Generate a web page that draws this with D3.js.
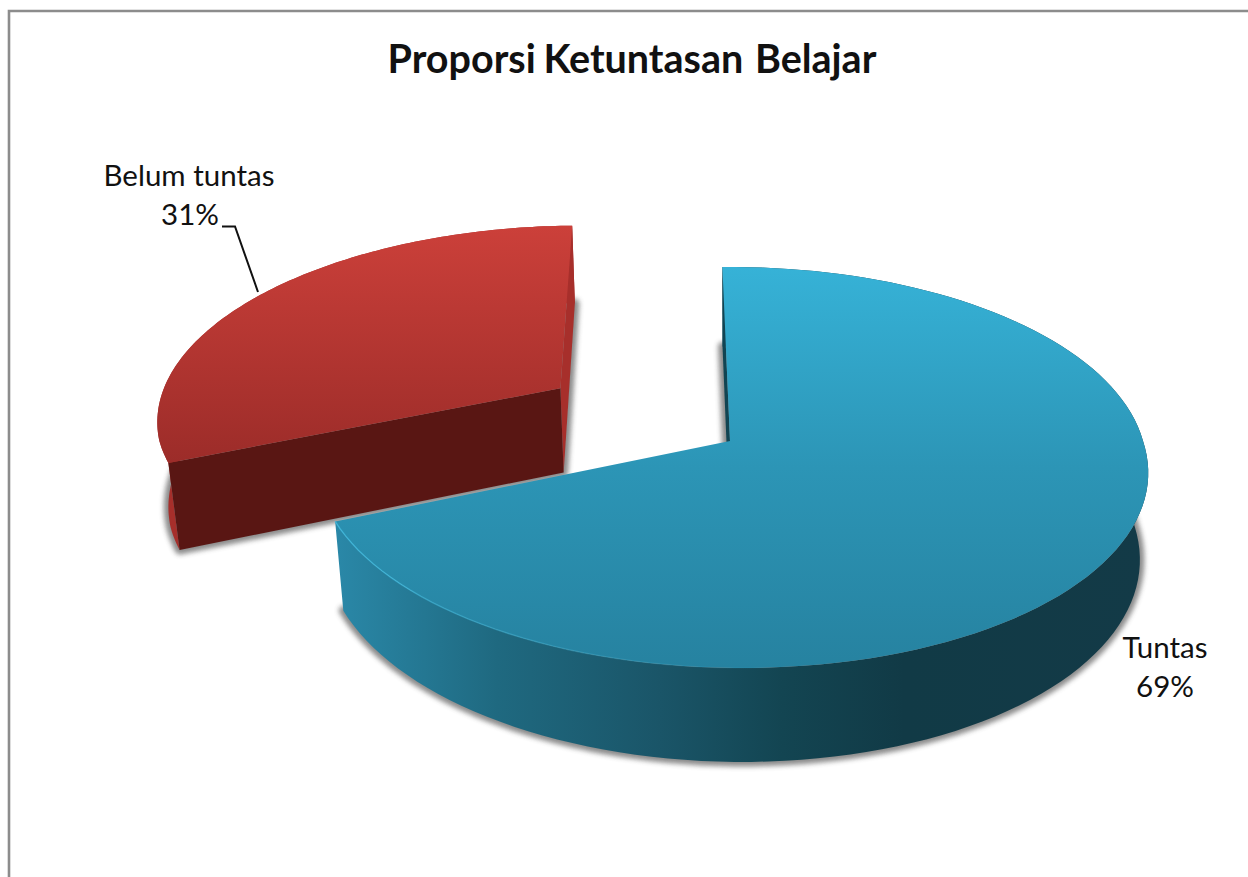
<!DOCTYPE html>
<html>
<head>
<meta charset="utf-8">
<script src="https://cdn.jsdelivr.net/npm/d3@7"></script>
<style>
    html, body { margin: 0; padding: 0; background: #fff; overflow: hidden; }
    svg { display: block; }
    text { font-family: Lato, "Open Sans", sans-serif; fill: #111; }
</style>
</head>
<body>
<svg id="chart" width="1248" height="877"></svg>
<script>
const categories = ["Tuntas", "Belum tuntas"];
const percentValues = [69, 31];

const svg = d3.select("#chart");

// pie geometry
const center = { "x": 730, "y": 441 };
const radius = { "left": 411, "right": 413, "y": 197 };
const perspective = 0.132;
const depth = 88;
const depthShrink = 0.02;
const explode = 0.51;
const shear = 11;
const startAngle = -1.2 * Math.PI / 180;

const xScale = d3.scaleLinear().domain([-1, 0, 1]).range([center.x - radius.left, center.x, center.x + radius.right]);
const yScale = d3.scaleLinear().domain([-1, 1]).range([center.y - radius.y, center.y + radius.y]);

const pie = d3.pie()
    .sort(null)
    .startAngle(startAngle)
    .endAngle(startAngle + 2 * Math.PI);

const arcs = pie(percentValues);

// ground plane (u, v) + height flag -> screen point
function project(u, v, bottom)
{
    let f = 1 / (1 - perspective * v + (bottom ? depthShrink : 0));
    let shift = bottom ? depth / radius.y : 0;
    return [
        center.x + (xScale(u) - center.x + shear * Math.max(v, 0)) * f,
        center.y + (yScale(v + shift) - center.y) * f
    ];
}

function slicePoint(d, angle, r, bottom)
{
    let mid = (d.startAngle + d.endAngle) / 2;
    // only the small slice is pulled out
    let t = d.index == 1 ? explode : 0;
    let u = t * Math.sin(mid) + r * Math.sin(angle);
    let v = -t * Math.cos(mid) - r * Math.cos(angle);
    return project(u, v, bottom);
}

function rim(d, bottom)
{
    let n = 120;
    return d3.range(n + 1).map(function(i){
        let a = d.startAngle + (d.endAngle - d.startAngle) * i / n;
        return slicePoint(d, a, 1, bottom);
    });
}

const line = d3.line();

function facePath(d, bottom)
{
    return line([slicePoint(d, 0, 0, bottom)].concat(rim(d, bottom))) + "Z";
}

function wallPath(d)
{
    return line(rim(d, false).concat(rim(d, true).reverse())) + "Z";
}

function cutPath(d, angle)
{
    return line([
        slicePoint(d, 0, 0, false),
        slicePoint(d, angle, 1, false),
        slicePoint(d, angle, 1, true),
        slicePoint(d, 0, 0, true)
    ]) + "Z";
}

// gradients and shadow
const defs = svg.append("defs");

function addGradient(id, x1, y1, x2, y2, stops)
{
    let g = defs.append("linearGradient")
        .attr("id", id)
        .attr("gradientUnits", "userSpaceOnUse")
        .attr("x1", x1).attr("y1", y1)
        .attr("x2", x2).attr("y2", y2);
    g.selectAll("stop").data(stops).enter().append("stop")
        .attr("offset", d => d[0])
        .attr("stop-color", d => d[1])
        .attr("stop-opacity", d => d.length > 2 ? d[2] : 1);
}

addGradient("blueTop", 0, 267, 0, 668, [[0, "#36b2d7"], [0.5, "#2c95b6"], [1, "#2682a0"]]);
addGradient("redTop", 0, 224, 0, 462, [[0, "#cc403a"], [1, "#9c2c29"]]);
addGradient("blueWall", 335, 0, 1148, 0, [
    [0, "#2a88a8"], [0.2, "#1f6980"], [0.4, "#1a5568"], [0.55, "#134552"], [0.7, "#113a46"], [1, "#133a47"]
]);
addGradient("redWall", 160, 0, 575, 0, [[0, "#a62f2b"], [1, "#a72f2b"]]);
addGradient("blueRim", 335, 0, 800, 0, [[0, "#3bb7dc", 0.8], [0.5, "#3bb7dc", 0.35], [1, "#3bb7dc", 0]]);

defs.append("filter")
    .attr("id", "soft")
    .attr("x", "-10%").attr("y", "-10%")
    .attr("width", "120%").attr("height", "120%")
    .append("feGaussianBlur")
    .attr("stdDeviation", 2.6);

// chart frame
svg.append("path")
    .attr("d", line([[9, 877], [9, 11], [1248, 11]]))
    .attr("fill", "none")
    .attr("stroke", "#8c8c8c")
    .attr("stroke-width", 2.6);

// red slice first, the blue one sits in front of it
function drawSlice(d, colors)
{
    let g = svg.append("g");

    g.append("path")
        .attr("d", facePath(d, true))
        .attr("fill", "#444")
        .attr("stroke", "#444")
        .attr("stroke-width", 9)
        .attr("stroke-linejoin", "round")
        .attr("opacity", 0.62)
        .attr("filter", "url(#soft)");

    g.append("path")
        .attr("d", wallPath(d))
        .attr("fill", colors.wall);

    // the blue slice's far cut face is hidden, so it has none
    if(colors.endCut)
    {
        g.append("path")
            .attr("d", cutPath(d, d.endAngle))
            .attr("fill", colors.endCut);
    }

    g.append("path")
        .attr("d", cutPath(d, d.startAngle))
        .attr("fill", colors.startCut);

    g.append("path")
        .attr("d", facePath(d, false))
        .attr("fill", colors.top);

    return g;
}

drawSlice(arcs[1], {
    "startCut": "#591613",
    "wall": "url(#redWall)",
    "endCut": "#a72f2b",
    "top": "url(#redTop)"
});

const blue = drawSlice(arcs[0], {
    "startCut": "#114452",
    "wall": "url(#blueWall)",
    "top": "url(#blueTop)"
});

// light bevel along the front rim, left part only
blue.append("path")
    .attr("d", line(rim(arcs[0], false).slice(60)))
    .attr("fill", "none")
    .attr("stroke", "url(#blueRim)")
    .attr("stroke-width", 1.4);

// leader line for the small slice
svg.append("path")
    .attr("d", line([[222, 226.5], [235, 226.5], [258, 292]]))
    .attr("fill", "none")
    .attr("stroke", "#111")
    .attr("stroke-width", 2);

// title
const title = svg.append("text")
    .attr("x", 632)
    .attr("y", 73)
    .attr("text-anchor", "middle")
    .attr("font-size", 39.5)
    .attr("font-weight", 700);

title.append("tspan").text("Proporsi ");
title.append("tspan").attr("dx", -2).text("Ketuntasan ");
title.append("tspan").attr("dx", 2).text("Belajar");

// data labels
const labelPlaces = [
    { "x": 1165, "y": 658 },
    { "x": 189, "y": 186, "percentX": 190 }
];

const labels = svg.selectAll(".label")
    .data(arcs)
    .enter()
    .append("text")
    .attr("class", "label")
    .attr("text-anchor", "middle")
    .attr("font-size", 29.5);

labels.append("tspan")
    .attr("x", (d, i) => labelPlaces[i].x)
    .attr("y", (d, i) => labelPlaces[i].y)
    .text((d, i) => categories[i]);

labels.append("tspan")
    .attr("x", (d, i) => labelPlaces[i].percentX || labelPlaces[i].x)
    .attr("y", (d, i) => labelPlaces[i].y + 39)
    .text(d => d.value + "%");
</script>
</body>
</html>
